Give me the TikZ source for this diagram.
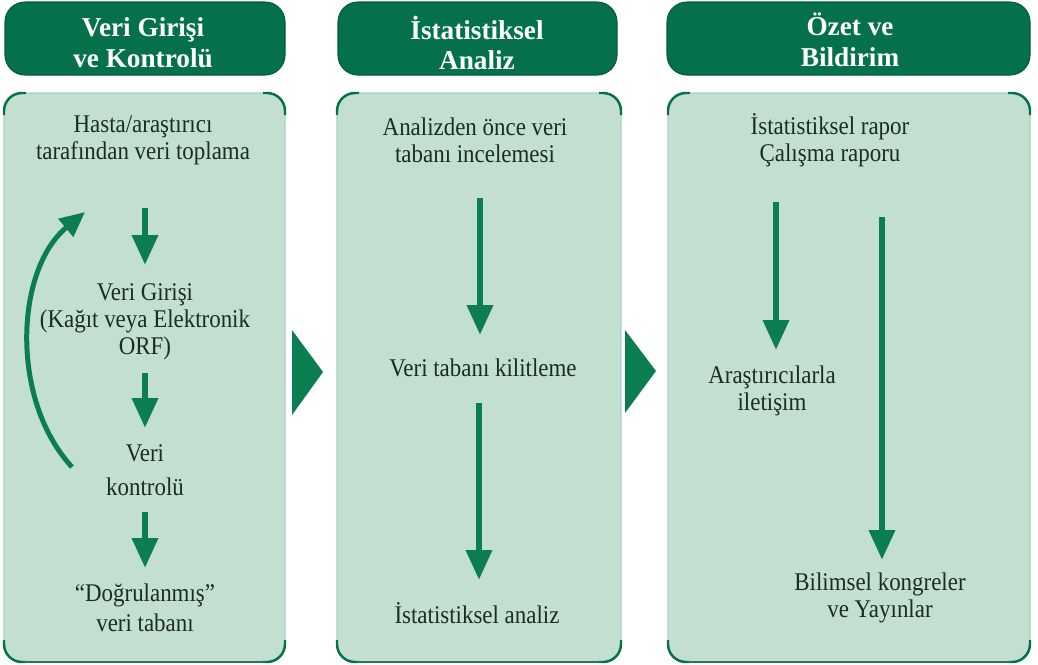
\documentclass[tikz,border=0pt]{standalone}
\usepackage{fontspec}
\setmainfont{Liberation Serif}
\newfontfamily\narrowserif[FakeStretch=0.9]{Liberation Serif}
\usetikzlibrary{arrows.meta}
\definecolor{hdr}{HTML}{04714A}
\definecolor{pan}{HTML}{C3DFD0}
\definecolor{panedge}{HTML}{A6D4BE}
\definecolor{arr}{HTML}{0A7D51}
\definecolor{txt}{HTML}{1E2A25}
\begin{document}
\begin{tikzpicture}[x=0.02cm,y=-0.02cm,
 hdrbox/.style={fill=hdr, draw=hdr!80!black, line width=0.6pt, rounded corners=0.4cm},
 hdrtext/.style={text=white, font=\bfseries\fontsize{15.5}{17.5}\selectfont, align=center, inner sep=0pt},
 panelbox/.style={fill=pan, draw=panedge, line width=0.8pt, rounded corners=0.36cm},
 cornerarc/.style={draw=hdr, line width=1.4pt, rounded corners=0.36cm},
 body/.style={text=txt, font=\narrowserif\fontsize{14.5}{15.3}\selectfont, align=center, inner sep=0pt},
 flow/.style={draw=arr, line width=0.13cm, -{Triangle[width=0.5cm,length=0.6cm]}},
 bentflow/.style={draw=arr, line width=0.1cm, -{Triangle[width=0.45cm,length=0.5cm]}},
 chevron/.style={fill=arr}]
\useasboundingbox (0,0) rectangle (1038,664);
\fill[white] (0,0) rectangle (1038,664);

% headers
\draw[hdrbox] (5,2) rectangle (285,75);
\draw[hdrbox] (338,2) rectangle (617,75);
\draw[hdrbox] (667,2) rectangle (1030,75);
\node[hdrtext] (h1) at (143,43) {Veri Girişi\\ve Kontrolü};
\node[hdrtext] (h2) at (477,43) {İstatistiksel\\Analiz};
\node[hdrtext] (h3) at (850,40) {Özet ve\\Bildirim};

% panels
\foreach \xa/\xb in {4/285, 337/621, 668/1030}{
  \draw[panelbox] (\xa,93) rectangle (\xb,662);
  \draw[cornerarc] (\xa,115) -- (\xa,93) -- (\xa+22,93);
  \draw[cornerarc] (\xb-22,93) -- (\xb,93) -- (\xb,115);
  \draw[cornerarc] (\xa,640) -- (\xa,662) -- (\xa+22,662);
  \draw[cornerarc] (\xb-22,662) -- (\xb,662) -- (\xb,640);
  \draw[draw=hdr!70!gray, line width=1.2pt] (\xa+20,662) -- (\xb-20,662);
}

% chevrons
\fill[chevron] (292,330) -- (323,372) -- (292,415) -- cycle;
\fill[chevron] (625,330) -- (656,371) -- (625,413) -- cycle;

% left panel texts
\node[body] (t1) at (143,140) {Hasta/araştırıcı\\tarafından veri toplama};
\node[body] (t2) at (145,322) {Veri Girişi\\(Kağıt veya Elektronik\\ORF)};
\node[body] (t3) at (145,470) {Veri\\[0.14cm]kontrolü};
\node[body] (t4) at (145,608) {“Doğrulanmış”\\[0.06cm]veri tabanı};

% middle panel texts
\node[body] (m1) at (475,140) {Analizden önce veri\\tabanı incelemesi};
\node[body] (m2) at (483,368) {Veri tabanı kilitleme};
\node[body] (m3) at (477,613) {İstatistiksel analiz};

% right panel texts
\node[body] (r1) at (830,140) {İstatistiksel rapor\\Çalışma raporu};
\node[body] (r2) at (772,391) {Araştırıcılarla\\iletişim};
\node[body] (r3) at (880,598) {Bilimsel kongreler\\ve Yayınlar};

% arrow end points
\coordinate (a1s) at (145,208); \coordinate (a1e) at (145,265);
\coordinate (a2s) at (145,373); \coordinate (a2e) at (145,428);
\coordinate (a3s) at (145,512); \coordinate (a3e) at (145,568);
\coordinate (b1s) at (480,198); \coordinate (b1e) at (480,335);
\coordinate (b2s) at (479,403); \coordinate (b2e) at (479,580);
\coordinate (c1s) at (776,202); \coordinate (c1e) at (776,350);
\coordinate (c2s) at (882,217); \coordinate (c2e) at (882,560);
\coordinate (lps) at (72,467);  \coordinate (lpe) at (85,212);

\draw[flow] (a1s) -- (a1e);
\draw[flow] (a2s) -- (a2e);
\draw[flow] (a3s) -- (a3e);
\draw[flow] (b1s) -- (b1e);
\draw[flow] (b2s) -- (b2e);
\draw[flow] (c1s) -- (c1e);
\draw[flow] (c2s) -- (c2e);
\draw[bentflow] (lps) .. controls (10,400) and (15,270) .. (lpe);
\end{tikzpicture}
\end{document}
